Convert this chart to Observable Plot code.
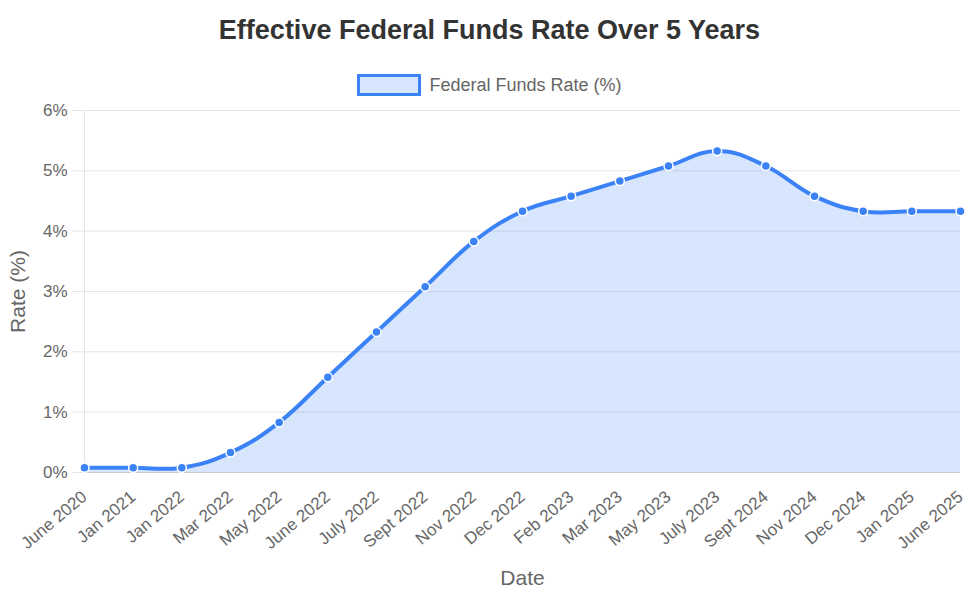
<!DOCTYPE html>
<html>
<head>
<meta charset="utf-8">
<script src="https://cdn.jsdelivr.net/npm/d3@7"></script>
<script src="https://cdn.jsdelivr.net/npm/@observablehq/plot@0.6"></script>
<style>
  body { margin: 0; background: #fff; font-family: "Liberation Sans", Arial, Helvetica, sans-serif; overflow: hidden; }
  #wrap { width: 979px; }
  #title { height: 60px; line-height: 61px; text-align: center; font-weight: bold; font-size: 27px; color: #333; overflow: visible; }
  #legend { height: 40px; display: flex; justify-content: center; align-items: center; position: relative; top: 5px; color: #666; font-size: 18px; }
  #legend .box { width: 58px; height: 16px; border: 3px solid #3b82f6; background: rgba(59,130,246,0.2); margin-right: 8px; }
  #chart svg { display: block; overflow: visible; max-width: none; }
</style>
</head>
<body>
<div id="wrap">
  <div id="title">Effective Federal Funds Rate Over 5 Years</div>
  <div id="legend"><span class="box"></span><span>Federal Funds Rate (%)</span></div>
  <div id="chart"></div>
</div>
<script>
const dates = ["June 2020","Jan 2021","Jan 2022","Mar 2022","May 2022","June 2022","July 2022","Sept 2022","Nov 2022","Dec 2022","Feb 2023","Mar 2023","May 2023","July 2023","Sept 2024","Nov 2024","Dec 2024","Jan 2025","June 2025"];
const rates = [0.08,0.08,0.08,0.33,0.83,1.58,2.33,3.08,3.83,4.33,4.58,4.83,5.08,5.33,5.08,4.58,4.33,4.33,4.33];
const yTicks = [0,1,2,3,4,5,6];

const data = dates.map((d, i) => ({date: d, rate: rates[i]}));
const blue = "#3b82f6";
const curve = "cardinal";
const tension = -0.2;

const chart = Plot.plot({
  width: 979,
  height: 500,
  marginTop: 10,
  marginBottom: 128,
  marginLeft: 84,
  marginRight: 19,
  style: { fontFamily: "'Liberation Sans', Arial, Helvetica, sans-serif", color: "#666", background: "#fff" },
  x: { type: "point", domain: dates, padding: 0, round: false, label: null },
  y: { domain: [0, 6], label: null },
  marks: [
    Plot.gridY(yTicks, { stroke: "#e5e5e5", strokeOpacity: 1 }),
    Plot.axisY(yTicks, { tickSize: 12, tickPadding: 5, stroke: "#e5e5e5", strokeOpacity: 1, fill: "#666", fontSize: 17, tickFormat: d => d + "%", label: null }),
    Plot.ruleX([dates[0]], { y1: 0, y2: 6, stroke: "#e5e5e5" }),
    Plot.areaY(data, { x: "date", y: "rate", fill: blue, fillOpacity: 0.2, curve, tension }),
    Plot.ruleY([0], { stroke: "#c5cad3" }),
    Plot.lineY(data, { x: "date", y: "rate", stroke: blue, strokeWidth: 4, curve, tension }),
    Plot.dot(data, { x: "date", y: "rate", r: 4.5, fill: blue, stroke: "#fff", strokeWidth: 1.5 }),
    Plot.axisX({ tickSize: 0, tickPadding: 22, tickRotate: -40, fontSize: 17, fill: "#666", label: null }),
    Plot.text(["Date"], { frameAnchor: "bottom", dy: 106, lineAnchor: "middle", textAnchor: "middle", fontSize: 21, fill: "#666" }),
    Plot.text(["Rate (%)"], { frameAnchor: "left", dx: -66, rotate: -90, lineAnchor: "middle", textAnchor: "middle", fontSize: 21, fill: "#666" })
  ]
});
document.getElementById("chart").appendChild(chart);
</script>
</body>
</html>
